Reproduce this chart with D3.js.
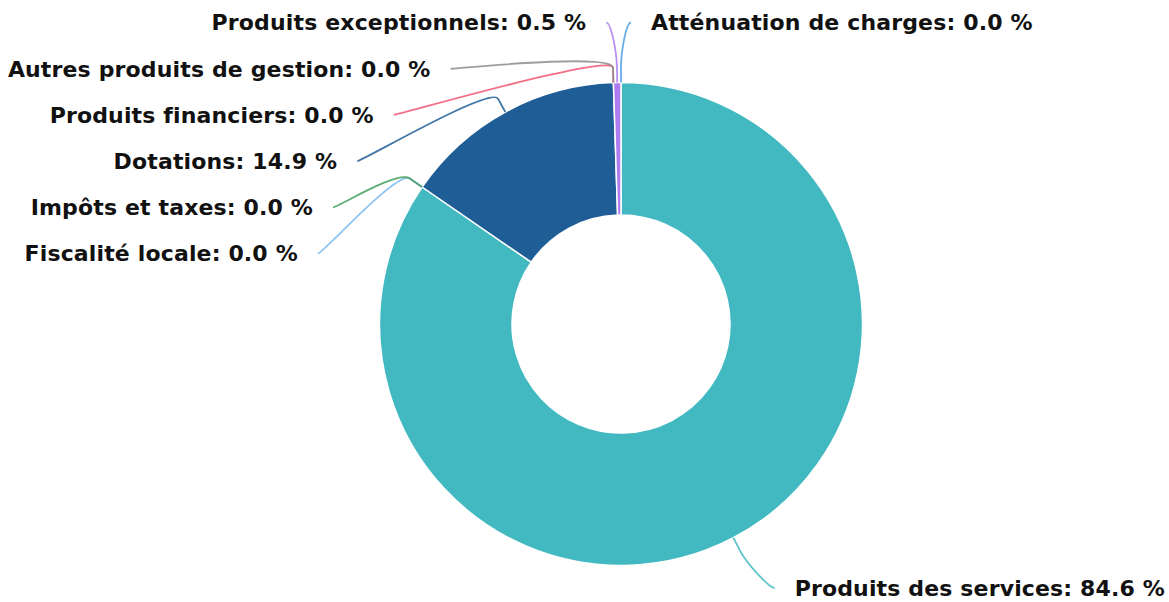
<!DOCTYPE html>
<html>
<head>
<meta charset="utf-8">
<script src="https://cdn.jsdelivr.net/npm/d3@7"></script>
<style>
  html, body { margin: 0; padding: 0; background: #ffffff; }
  svg { display: block; }
  .lbl { font-family: "DejaVu Sans", Verdana, sans-serif; font-weight: bold; font-size: 22px; letter-spacing: 0.15px; fill: #111; }
</style>
</head>
<body>
<svg id="chart" width="1169" height="602"></svg>
<script>
// Répartition des recettes de fonctionnement (%)
const categories = [
  "Atténuation de charges",
  "Produits des services",
  "Fiscalité locale",
  "Impôts et taxes",
  "Dotations",
  "Produits financiers",
  "Autres produits de gestion",
  "Produits exceptionnels"
];
const shares = [0.0, 84.6, 0.0, 0.0, 14.9, 0.0, 0.0, 0.5];
const colors = ["#4f9fe0", "#42b9c1", "#7ab8ee", "#3f9e5e", "#1f5d97", "#f2556f", "#8c8c8c", "#ae7cf0"];

const W = 1169, H = 602;
const cx = 621, cy = 324;
const rOuter = 241.5, rInner = 109;
const labelDistance = 60, connectorOffset = 15, labelGap = 46.2;
const maxLabelY = H - 14, edgePad = 4;

const svg = d3.select("#chart");
const data = categories.map((name, i) => ({ name, value: shares[i], color: colors[i], index: i }));

const pie = d3.pie().sort(null).value(d => d.value);
const arcs = pie(data);
const arc = d3.arc().innerRadius(rInner).outerRadius(rOuter);

const g = svg.append("g").attr("transform", `translate(${cx},${cy})`);
g.selectAll("path.slice")
  .data(arcs.filter(a => a.data.value > 0))
  .join("path")
  .attr("class", "slice")
  .attr("d", arc)
  .attr("fill", a => a.data.color)
  .attr("stroke", "#ffffff")
  .attr("stroke-width", 1.5)
  .attr("stroke-linejoin", "round");

// Label layout: natural position on an outer circle, then pushed apart per side
const R = rOuter + labelDistance;
const polar = (rad, ang) => [cx + rad * Math.sin(ang), cy - rad * Math.cos(ang)];
const fmt = d3.format(".1f");
const items = arcs.map(a => {
  const mid = (a.startAngle + a.endAngle) / 2;
  return {
    a, mid,
    text: `${a.data.name}: ${fmt(a.data.value)} %`,
    left: Math.sin(mid) < -1e-9,
    natY: cy - R * Math.cos(mid),
    touch: polar(rOuter, mid),
    brk: polar(rOuter + connectorOffset, mid)
  };
});

function distribute(list) {
  let prev = -Infinity;
  list.forEach(it => {
    it.y = Math.min(maxLabelY, Math.max(it.natY, prev + labelGap));
    prev = it.y;
  });
}
const leftItems = items.filter(d => d.left).sort((p, q) => q.a.data.index - p.a.data.index);
const rightItems = items.filter(d => !d.left).sort((p, q) => p.natY - q.natY);
distribute(leftItems);
distribute(rightItems);

const labels = svg.append("g").selectAll("text")
  .data(items)
  .join("text")
  .attr("class", "lbl")
  .attr("dy", "0.36em")
  .attr("text-anchor", it => it.left ? "end" : "start")
  .text(it => it.text);

// Horizontal placement, kept inside the drawing area
labels.each(function (it) {
  const width = this.getComputedTextLength();
  const dy = it.y - cy;
  const dx = Math.sqrt(Math.max(0, R * R - dy * dy)) + 10;
  if (it.left) {
    it.lx = Math.max(cx - dx, edgePad + width + 20);
    it.tx = it.lx - 20;
  } else {
    it.lx = Math.min(cx + dx, W - edgePad - width - 20);
    it.tx = it.lx + 20;
  }
});
labels.attr("x", it => it.tx).attr("y", it => it.y);

// Soft connectors: curve from the label to the break point, then straight to the slice
const connector = it => {
  const p = d3.path();
  const [bx, by] = it.brk, [tx, ty] = it.touch;
  p.moveTo(it.lx, it.y);
  p.bezierCurveTo(it.lx + (it.left ? 5 : -5), it.y, 2 * bx - tx, 2 * by - ty, bx, by);
  p.lineTo(tx, ty);
  return p.toString();
};

svg.insert("g", "g:last-of-type").selectAll("path")
  .data(items)
  .join("path")
  .attr("d", connector)
  .attr("fill", "none")
  .attr("stroke", it => it.a.data.color)
  .attr("stroke-opacity", 0.85)
  .attr("stroke-width", 1.8);
</script>
</body>
</html>
